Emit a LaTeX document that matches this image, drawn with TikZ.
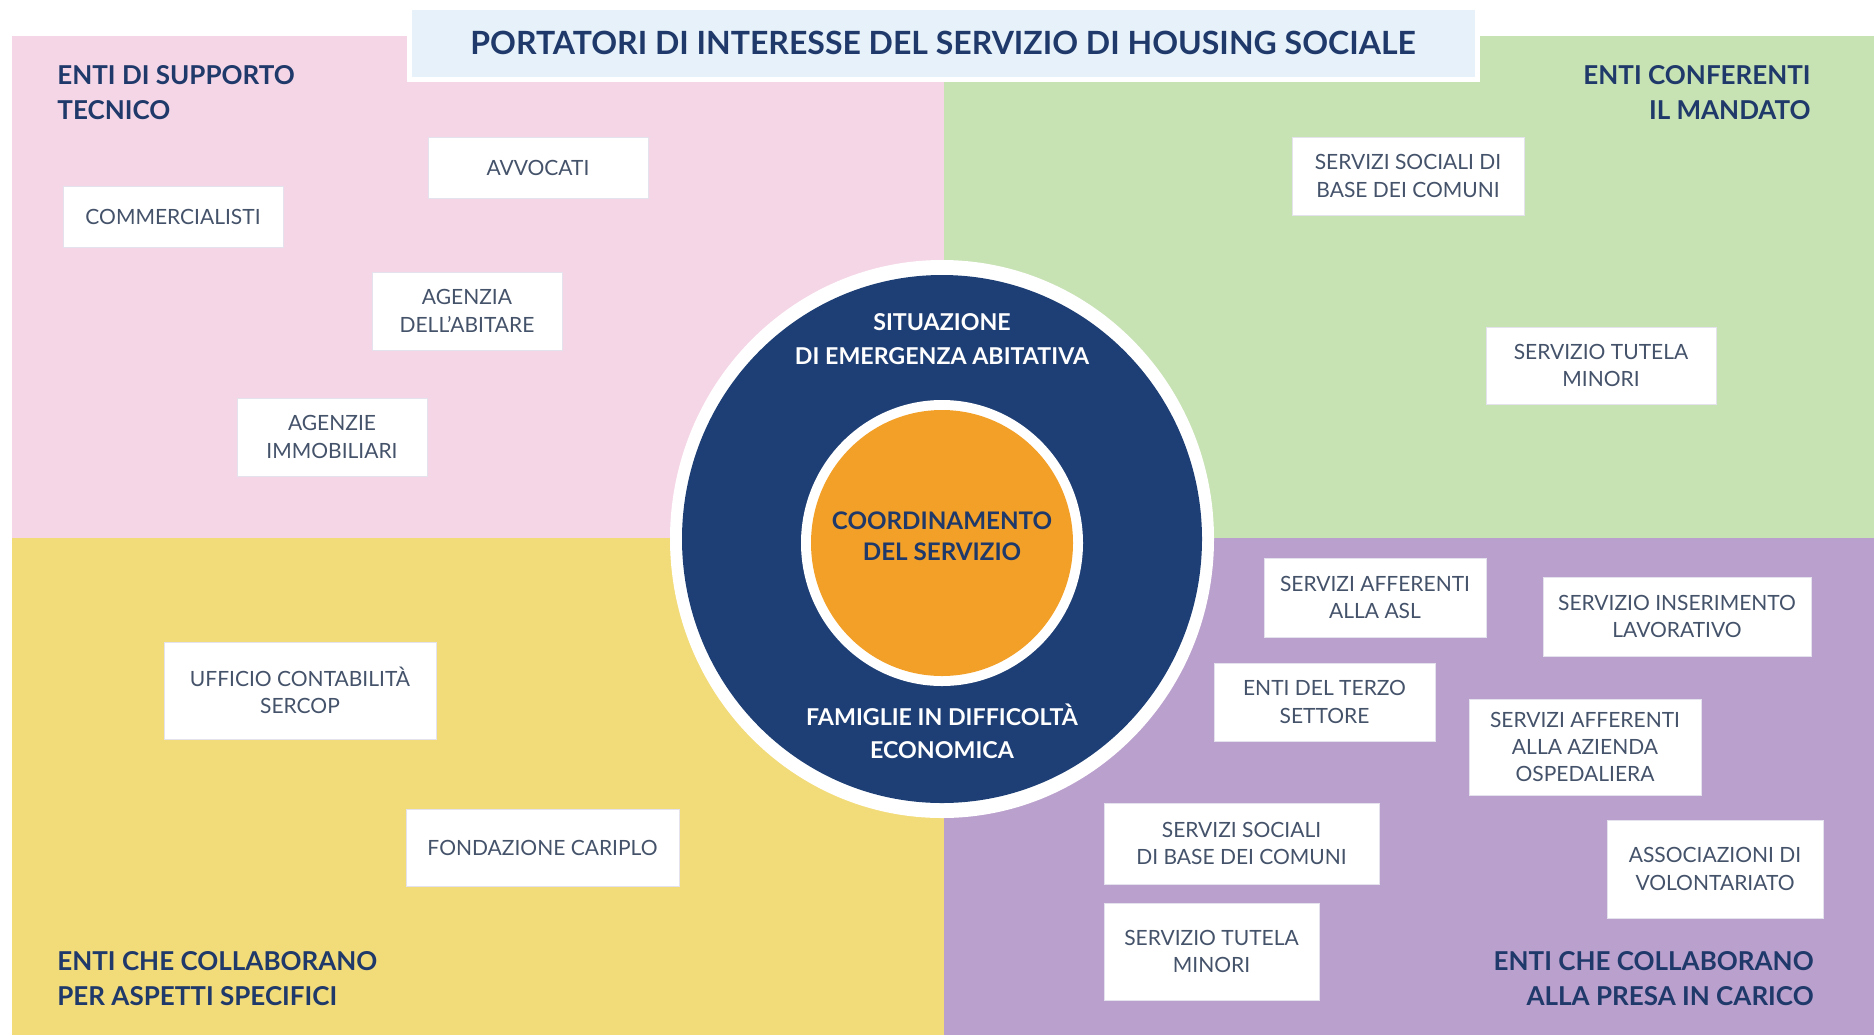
\documentclass[tikz,border=0pt]{standalone}
\usepackage{fontspec}
\setmainfont{Lato}
\usepackage{xcolor}
\definecolor{pinkq}{RGB}{245,214,230}
\definecolor{greenq}{RGB}{199,226,179}
\definecolor{yellowq}{RGB}{242,219,121}
\definecolor{purpleq}{RGB}{186,160,204}
\definecolor{titlebg}{RGB}{230,241,249}
\definecolor{navy}{RGB}{30,63,117}
\definecolor{navytext}{RGB}{31,57,106}
\definecolor{orangec}{RGB}{243,160,40}
\definecolor{boxtext}{RGB}{68,82,106}
\definecolor{boxline}{RGB}{228,226,236}
\usetikzlibrary{positioning, shapes.geometric}
\tikzstyle{Box} = [
rectangle, fill=white, draw=boxline, line width=0.5pt,
inner sep=0pt, align=center, text=boxtext,
font=\fontsize{10.5}{13.7}\selectfont]
\tikzstyle{Group} = [
inner sep=0pt, text=navytext,
font=\bfseries\fontsize{13}{17.4}\selectfont]
\tikzstyle{Ring} = [
inner sep=0pt, align=center,
font=\bfseries\fontsize{11.6}{16.7}\selectfont]

\begin{document}
\begin{tikzpicture}[x=0.5pt, y=-0.5pt]
    \useasboundingbox (0,0) rectangle (1874,1035);
    \fill[white] (0,0) rectangle (1874,1035);

    % quadrants
    \fill[pinkq] (12,36) rectangle (944,538);
    \fill[greenq] (944,36) rectangle (1874,538);
    \fill[yellowq] (12,538) rectangle (944,1035);
    \fill[purpleq] (944,538) rectangle (1874,1035);

    \node [fill=titlebg, draw=white, line width=2.5pt, minimum width=534pt,
        minimum height=36pt, text=navytext,
        font=\bfseries\fontsize{16}{18}\selectfont] (title) at (943,43)
        {PORTATORI DI INTERESSE DEL SERVIZIO DI HOUSING SOCIALE};

    % circles
    \fill[white] (942,539) ellipse [x radius=136pt, y radius=139.5pt];
    \fill[navy] (942,539) ellipse [x radius=130pt, y radius=132pt];
    \fill[white] (942,543) ellipse [x radius=70.5pt, y radius=71.5pt];
    \fill[orangec] (942,543) ellipse [x radius=65.5pt, y radius=66.5pt];

    \node [Ring, text=white] (emerg) at (942,339)
        {SITUAZIONE\\DI EMERGENZA ABITATIVA};
    \node [Ring, text=navytext, font=\bfseries\fontsize{12.1}{15.5}\selectfont]
        (coord) at (942,536) {COORDINAMENTO\\DEL SERVIZIO};
    \node [Ring, text=white] (famiglie) at (942,731)
        {FAMIGLIE IN DIFFICOLTÀ\\ECONOMICA};

    % group labels
    \node [Group, anchor=north west, align=left] (supp) at (57,65)
        {ENTI DI SUPPORTO\\TECNICO};
    \node [Group, anchor=north east, align=right] (conf) at (1811,65)
        {ENTI CONFERENTI\\IL MANDATO};
    \node [Group, anchor=north west, align=left] (spec) at (57,951)
        {ENTI CHE COLLABORANO\\PER ASPETTI SPECIFICI};
    \node [Group, anchor=north east, align=right] (presa) at (1814,951)
        {ENTI CHE COLLABORANO\\ALLA PRESA IN CARICO};

    % supporto tecnico
    \node [Box, minimum width=110pt, minimum height=30.5pt] (avv) at (538,167.5)
        {AVVOCATI};
    \node [Box, minimum width=110pt, minimum height=30.5pt] (comm) at (173,216.5)
        {COMMERCIALISTI};
    \node [Box, minimum width=95pt, minimum height=39pt] (abit) at (467,311)
        {AGENZIA\\DELL'ABITARE};
    \node [Box, minimum width=95pt, minimum height=39pt] (immob) at (332,437)
        {AGENZIE\\IMMOBILIARI};

    % conferenti il mandato
    \node [Box, minimum width=116pt, minimum height=39pt] (ssbA) at (1408,176)
        {SERVIZI SOCIALI DI\\BASE DEI COMUNI};
    \node [Box, minimum width=115pt, minimum height=38.5pt] (tutA) at (1601,365.5)
        {SERVIZIO TUTELA\\MINORI};

    % aspetti specifici
    \node [Box, minimum width=136pt, minimum height=48.5pt] (uff) at (300,690.5)
        {UFFICIO CONTABILITÀ\\SERCOP};
    \node [Box, minimum width=136.5pt, minimum height=38.5pt] (cariplo) at (542.5,847.5)
        {FONDAZIONE CARIPLO};

    % presa in carico
    \node [Box, minimum width=111pt, minimum height=39.5pt] (asl) at (1375,597.5)
        {SERVIZI AFFERENTI\\ALLA ASL};
    \node [Box, minimum width=134pt, minimum height=39.5pt] (lavoro) at (1677,616.5)
        {SERVIZIO INSERIMENTO\\LAVORATIVO};
    \node [Box, minimum width=110.5pt, minimum height=39pt] (terzo) at (1324.5,702)
        {ENTI DEL TERZO\\SETTORE};
    \node [Box, minimum width=116pt, minimum height=48pt] (osp) at (1585,747)
        {SERVIZI AFFERENTI\\ALLA AZIENDA\\OSPEDALIERA};
    \node [Box, minimum width=137.5pt, minimum height=40.5pt] (ssbB) at (1241.5,843.5)
        {SERVIZI SOCIALI\\DI BASE DEI COMUNI};
    \node [Box, minimum width=108pt, minimum height=49pt] (volont) at (1715,869)
        {ASSOCIAZIONI DI\\VOLONTARIATO};
    \node [Box, minimum width=107.5pt, minimum height=48.5pt] (tutB) at (1211.5,951.5)
        {SERVIZIO TUTELA\\MINORI};
\end{tikzpicture}
\end{document}
